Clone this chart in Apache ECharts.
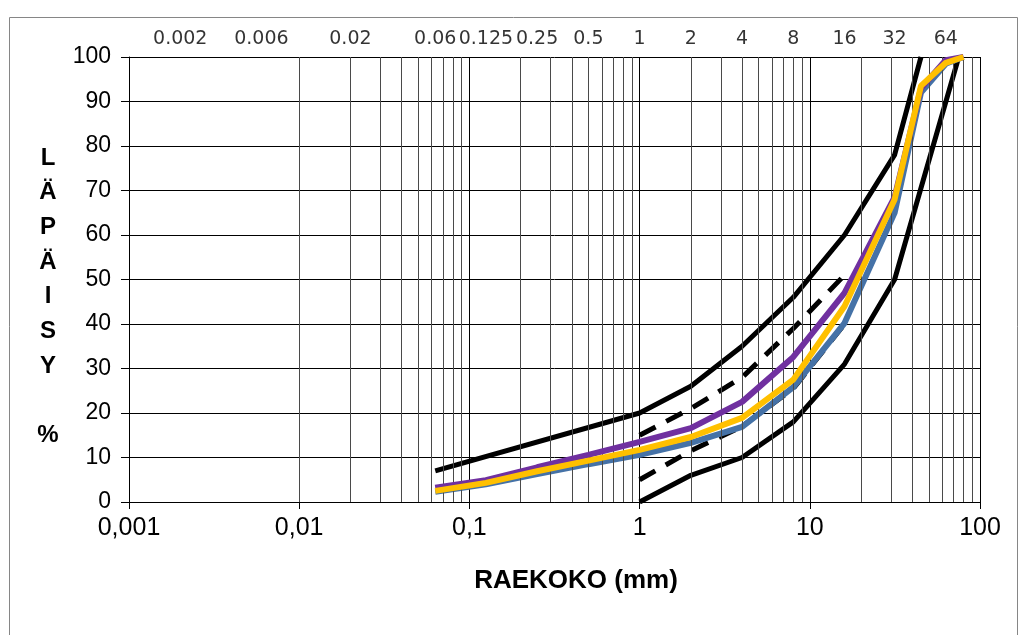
<!DOCTYPE html>
<html>
<head>
<meta charset="utf-8">
<script src="https://cdn.jsdelivr.net/npm/echarts@6/dist/echarts.min.js"></script>
<style>
html,body{margin:0;padding:0;background:#fff;}
#c{width:1022px;height:635px;}
</style>
</head>
<body>
<div id="c"></div>
<script>
// ---- data ----
var topTickValues = [0.002, 0.006, 0.02, 0.063, 0.125, 0.25, 0.5, 1, 2, 4, 8, 16, 31.5, 63];
var topTickLabels = ['0.002', '0.006', '0.02', '0.06', '0.125', '0.25', '0.5', '1', '2', '4', '8', '16', '32', '64'];
var xTickLabels = {0.001: '0,001', 0.01: '0,01', 0.1: '0,1', 1: '1', 10: '10', 100: '100'};
var yTicks = [0, 10, 20, 30, 40, 50, 60, 70, 80, 90, 100];

var upperLimitX = [0.063, 1, 2, 4, 8, 16, 31.5, 45];
var upperLimitY = [7, 20, 26, 35, 46, 60, 78, 100];
var lowerLimitX = [1, 2, 4, 8, 16, 31.5, 75];
var lowerLimitY = [0, 6, 10, 18, 31, 50, 100];
var upperInnerX = [1, 2, 4, 8, 16];
var upperInnerY = [15, 21, 28, 39, 51];
var lowerInnerX = [1, 2, 4, 8, 16];
var lowerInnerY = [5, 11.5, 17, 25.5, 40];

var sampleX = [0.063, 0.125, 0.25, 0.5, 1, 2, 4, 8, 16, 31.5, 45, 63, 80];
var blueY   = [2.3, 4.0, 6.3, 8.5, 10.6, 13.3, 16.9, 25.8, 40.2, 65, 92, 98.5, 100];
var purpleY = [3.2, 4.9, 7.8, 10.6, 13.5, 16.6, 22.5, 32.6, 47, 68.5, 93, 99.3, 100];
var yellowY = [2.5, 4.3, 6.9, 9.3, 11.7, 14.6, 18.9, 27.5, 44, 68, 93.5, 98.7, 100];

// minor vertical grid values (log grid 2..9 in each decade)
var minorGrid = [];
[0.001, 0.01, 0.1, 1, 10].forEach(function (d) {
  for (var k = 2; k <= 9; k++) minorGrid.push(+(k * d).toPrecision(3));
});

function pairs(xs, ys) { return xs.map(function (x, i) { return [x, ys[i]]; }); }

var chart = echarts.init(document.getElementById('c'), null, {renderer: 'canvas'});

var black = '#000000';
var option = {
  animation: false,
  backgroundColor: '#ffffff',
  grid: {left: 129, right: 42, top: 57, bottom: 133, containLabel: false},
  xAxis: {
    type: 'log', logBase: 10, min: 0.001, max: 100,
    axisLine: {show: true, onZero: false, lineStyle: {color: black, width: 1}},
    axisTick: {show: true, length: 7, lineStyle: {color: black}},
    axisLabel: {
      fontFamily: 'Liberation Sans, Arial, sans-serif', fontSize: 25, color: black, margin: 14,
      formatter: function (v) {
        for (var k in xTickLabels) { if (Math.abs(Math.log10(v) - Math.log10(+k)) < 1e-6) return xTickLabels[k]; }
        return '';
      }
    },
    splitLine: {show: true, lineStyle: {color: black, width: 1}},
    minorTick: {show: false}, minorSplitLine: {show: false}
  },
  yAxis: {
    type: 'value', min: 0, max: 100, interval: 10,
    axisLine: {show: true, lineStyle: {color: black, width: 1}},
    axisTick: {show: true, length: 8, lineStyle: {color: black}},
    axisLabel: {fontFamily: 'Liberation Sans, Arial, sans-serif', fontSize: 23, color: black, margin: 18},
    splitLine: {show: true, lineStyle: {color: black, width: 1}}
  },
  graphic: [
    {type: 'rect', shape: {x: 9.5, y: 17.5, width: 1008, height: 640}, style: {fill: 'none', stroke: '#868686', lineWidth: 1}, silent: true, z: -10},
    {type: 'text', style: {
      text: 'L\nÄ\nP\nÄ\nI\nS\nY\n\n%', x: 48, y: 140.6, textAlign: 'center', textVerticalAlign: 'top',
      font: 'bold 24px "Liberation Sans", Arial, sans-serif', fill: black, lineHeight: 34.7}, silent: true},
    {type: 'text', style: {
      text: 'RAEKOKO (mm)', x: 576, y: 581, textAlign: 'center', textVerticalAlign: 'middle',
      font: 'bold 26px "Liberation Sans", Arial, sans-serif', fill: black}, silent: true}
  ],
  series: [
    {
      name: 'grid', type: 'line', data: [], silent: true,
      markLine: {
        silent: true, symbol: ['none', 'none'], animation: false,
        label: {show: false},
        lineStyle: {color: '#4a4a4a', width: 1, type: 'solid'},
        data: minorGrid.map(function (v) { return {xAxis: v}; })
      }
    },
    {
      name: 'top labels', type: 'scatter', symbolSize: 0, silent: true,
      data: topTickValues.map(function (v, i) { return {value: [v, 100], label: {formatter: topTickLabels[i]}}; }),
      label: {show: true, position: 'top', distance: 8, color: black,
        fontFamily: 'DejaVu Sans, sans-serif', fontSize: 19},
      clip: false
    },
    {name: 'yläraja', type: 'line', data: pairs(upperLimitX, upperLimitY), symbol: 'none',
      lineStyle: {color: black, width: 5}, z: 3},
    {name: 'alaraja', type: 'line', data: pairs(lowerLimitX, lowerLimitY), symbol: 'none',
      lineStyle: {color: black, width: 5}, z: 3},
    {name: 'ylä sisä', type: 'line', data: pairs(upperInnerX, upperInnerY), symbol: 'none',
      lineStyle: {color: black, width: 5, type: [18, 12]}, z: 3},
    {name: 'ala sisä', type: 'line', data: pairs(lowerInnerX, lowerInnerY), symbol: 'none',
      lineStyle: {color: black, width: 5, type: [18, 12]}, z: 3},
    {name: 'näyte 1', type: 'line', data: pairs(sampleX, blueY), symbol: 'none',
      lineStyle: {color: '#4572A7', width: 6}, z: 4},
    {name: 'näyte 2', type: 'line', data: pairs(sampleX, purpleY), symbol: 'none',
      lineStyle: {color: '#7030A0', width: 6}, z: 5},
    {name: 'näyte 3', type: 'line', data: pairs(sampleX, yellowY), symbol: 'none',
      lineStyle: {color: '#FFC000', width: 6}, z: 6}
  ]
};
chart.setOption(option);
</script>
</body>
</html>
